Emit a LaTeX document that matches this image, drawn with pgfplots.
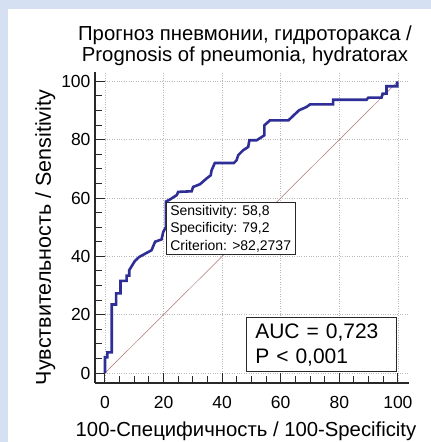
\documentclass[border=0pt]{standalone}
\usepackage{fontspec}
\setmainfont{Liberation Sans}
\usepackage{pgfplots}
\pgfplotsset{compat=1.18}
\definecolor{frameblue}{RGB}{213,225,242}
\definecolor{rocblue}{RGB}{46,46,150}
\definecolor{diagred}{RGB}{175,115,115}
\definecolor{axgray}{RGB}{40,40,40}
\begin{document}
\begin{tikzpicture}
\fill[frameblue] (0pt,0pt) rectangle (431pt,442pt);
\fill[white] (8pt,0pt) rectangle (431pt,433pt);
\useasboundingbox (0pt,0pt) rectangle (431pt,442pt);
\begin{axis}[
    at={(95pt,59pt)}, anchor=south west,
    scale only axis, width=314pt, height=311pt,
    xmin=-3.41, xmax=103.8, ymin=-3.42, ymax=103.2,
    axis x line*=bottom, axis y line*=left,
    axis line style={axgray, line width=1.3pt, -},
    xtick={0,20,...,100}, ytick={0,20,...,100},
    minor tick num=3,
    tick align=inside,
    major tick length=10pt, minor tick length=6.5pt,
    every tick/.style={axgray, line width=1pt},
    grid=major,
    major grid style={gray!55, dotted, line width=0.6pt},
    /pgf/number format/assume math mode=true,
    tick label style={font=\fontsize{17.5}{19}\selectfont},
    xticklabel style={yshift=-10pt},
    yticklabel style={xshift=-1pt},
    title={Прогноз пневмонии, гидроторакса /\\Prognosis of pneumonia, hydratorax},
    title style={align=center, font=\fontsize{20.3}{20.5}\selectfont, xshift=-7pt, yshift=-3pt},
    xlabel={100-Специфичность / 100-Specificity},
    xlabel style={font=\fontsize{20.3}{21}\selectfont, xshift=-6pt, yshift=-6pt},
    ylabel={Чувствительность / Sensitivity},
    ylabel style={font=\fontsize{21.5}{22}\selectfont, xshift=-10pt, yshift=-1pt},
    clip=false,
]
\addplot[diagred, line width=0.5pt] coordinates {(0,0) (100,100)};
\addplot[rocblue, line width=2.6pt, line join=miter] coordinates {
(0,0) (0,5.4) (0.8,5.4) (0.8,7.1) (2.3,7.1) (2.3,23.5) (3.8,23.5) (3.8,27.3)
(5.3,27.3) (5.3,31.6) (7.4,31.6) (7.4,33.4) (8.3,33.4) (8.3,35.3) (10.2,38.4)
(11.7,39.8) (15.9,42.1) (17.1,45) (19.3,45.8) (19.9,48.4) (20.8,50) (20.8,58.8)
(22.2,59.5) (24.5,61) (25,62.1) (29.6,62.3) (30.1,63.8) (32.4,64.7) (34.7,66.7)
(36.1,67.8) (36.4,69.5) (37.5,72.0) (44,72) (44.9,72.9) (45.5,74.7) (47.2,76.4)
(48.9,77.5) (49.3,79.8) (51.8,79.8) (53.5,80.9) (54.4,81.5) (54.4,84.9)
(56.3,86.6) (62.6,86.6) (64.8,88.7) (66.3,90.1) (68.8,91.2) (70,92.1)
(77.9,92.1) (77.9,93.7) (89.3,93.7) (89.9,94.4) (94.4,94.4) (94.8,95.8)
(96.1,95.8) (96.1,98.3) (99.8,98.3) (99.8,100)
};
\node[anchor=north west, draw=axgray, line width=0.8pt, fill=white, align=left,
      inner xsep=4pt, inner ysep=3pt,
      font=\fontsize{14}{17.5}\selectfont] at (axis cs:20.8,58.8)
      {Sensitivity: 58,8\\Specificity: 79,2\\Criterion: >82,2737};
\node[anchor=south east, draw=axgray, line width=0.8pt, fill=white, align=left,
      text width=132pt, inner xsep=9pt, inner ysep=6pt,
      font=\fontsize{21}{25}\selectfont] at (axis cs:99.6,0.3)
      {AUC = 0,723\\P < 0,001};
\end{axis}
\end{tikzpicture}
\end{document}
